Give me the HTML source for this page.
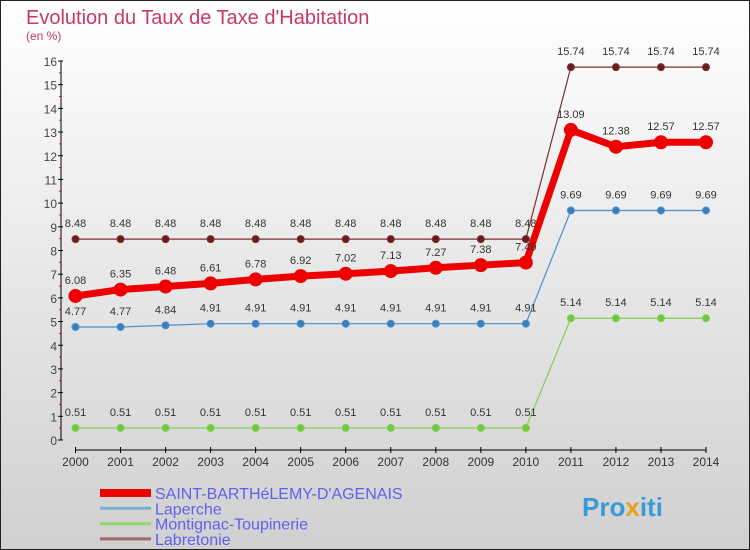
<!DOCTYPE html>
<html><head><meta charset="utf-8"><style>
body{margin:0}
#c{width:750px;height:550px;position:relative;overflow:hidden;font-family:"Liberation Sans",sans-serif}
</style></head><body>
<div id="c">
<svg id="s" width="750" height="550" xmlns="http://www.w3.org/2000/svg">
<defs><linearGradient id="bg" x1="0" y1="0" x2="0" y2="1"><stop offset="0" stop-color="#ffffff"/><stop offset="1" stop-color="#d0d0d0"/></linearGradient></defs>
<rect x="0.5" y="0.5" width="749" height="549" fill="url(#bg)" stroke="#222"/>
<text x="26" y="24" font-size="20" fill="#c8386a">Evolution du Taux de Taxe d'Habitation</text>
<text x="26" y="40" font-size="12" fill="#c8386a">(en %)</text>
<g id="axes"></g><g id="series"></g><g id="legend"></g>
<text x="582" y="516" font-size="26" font-weight="bold" fill="#3a9ad9">Pro<tspan fill="#e8a020">x</tspan>iti</text>
</svg></div>
<script>
const years=[2000,2001,2002,2003,2004,2005,2006,2007,2008,2009,2010,2011,2012,2013,2014];
const yTicks=[0,1,2,3,4,5,6,7,8,9,10,11,12,13,14,15,16];
const sStB=[6.08,6.35,6.48,6.61,6.78,6.92,7.02,7.13,7.27,7.38,7.49,13.09,12.38,12.57,12.57];
const sLaperche=[4.77,4.77,4.84,4.91,4.91,4.91,4.91,4.91,4.91,4.91,4.91,9.69,9.69,9.69,9.69];
const sMont=[0.51,0.51,0.51,0.51,0.51,0.51,0.51,0.51,0.51,0.51,0.51,5.14,5.14,5.14,5.14];
const sLab=[8.48,8.48,8.48,8.48,8.48,8.48,8.48,8.48,8.48,8.48,8.48,15.74,15.74,15.74,15.74];
const names=["SAINT-BARTHéLEMY-D'AGENAIS","Laperche","Montignac-Toupinerie","Labretonie"];
const NS="http://www.w3.org/2000/svg";
const X=i=>75.5+i*(706-75.5)/(years.length-1);
const Y=v=>440-v*(440-61)/16;
function mk(t,a,p){const e=document.createElementNS(NS,t);for(const k in a)e.setAttribute(k,a[k]);p.appendChild(e);return e;}
const ax=document.getElementById('axes');
let yl=mk('line',{x1:61,y1:61,x2:61,y2:440,stroke:'#000'},ax);


yTicks.forEach(v=>{
 mk('line',{x1:58,y1:Y(v),x2:63,y2:Y(v),stroke:'#000'},ax);
 if(v<16)mk('line',{x1:59,y1:Y(v+0.5),x2:61,y2:Y(v+0.5),stroke:'#e00'},ax);
 const t=mk('text',{x:57,y:Y(v)+5,'font-size':12,'text-anchor':'end',fill:'#444'},ax);t.textContent=v;
 
 
});
let xl=mk('line',{x1:75,y1:450,x2:706,y2:450,stroke:'#000'},ax);


years.forEach((y,i)=>{
 mk('line',{x1:X(i),y1:447,x2:X(i),y2:453,stroke:'#000'},ax);
 const t=mk('text',{x:X(i),y:466,'font-size':12,'text-anchor':'middle',fill:'#333'},ax);t.textContent=y;
 
 
});
const sg=document.getElementById('series');
function series(d,col,w,r,dot,name,lc){
 const g=mk('g',{},sg);
 
 
 mk('polyline',{points:d.map((v,i)=>X(i)+','+Y(v)).join(' '),fill:'none',stroke:col,'stroke-width':w},g);
 d.forEach((v,i)=>{
  const c=mk('circle',{cx:X(i),cy:Y(v),r:r,fill:dot,stroke:col,'stroke-width':1},g);
  
  
  const t=mk('text',{x:X(i),y:Y(v)-12,'font-size':11,'text-anchor':'middle',fill:lc},g);t.textContent=v;
  
  
 });
}
series(sLab,'#7a3030',1.2,3.5,'#6a1c1c','series-labretonie','#333');
series(sLaperche,'#4a90c8',1.2,3.5,'#3a80c0','series-laperche','#333');
series(sMont,'#80d050',1.2,3.5,'#70c840','series-montignac','#333');
series(sStB,'#ee0000',7,6.5,'#ee0000','series-saint-barthelemy','#333');
const lg=document.getElementById('legend');
const lcols=['#ee0000','#7aaed0','#90d870','#a06868'],lw=[8,3,3,3];
names.forEach((n,i)=>{
 const y=493+i*15.3;
 const g=mk('g',{},lg);
 
 
 mk('line',{x1:100,y1:y,x2:151,y2:y,stroke:lcols[i],'stroke-width':lw[i]},g);
 const t=mk('text',{x:155,y:y+6,'font-size':16,fill:'#6060ee'},g);t.textContent=n;
});
</script></body></html>
